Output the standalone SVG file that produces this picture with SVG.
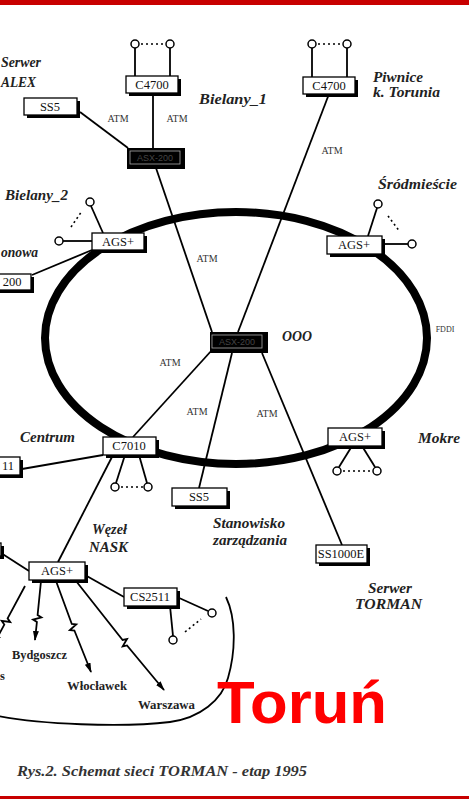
<svg xmlns="http://www.w3.org/2000/svg" width="469" height="799" viewBox="0 0 469 799">
<defs>
<marker id="ah" viewBox="0 0 10 6" refX="9" refY="3" markerWidth="10" markerHeight="6" markerUnits="userSpaceOnUse" orient="auto">
<path d="M0,0 L10,3 L0,6 Z" fill="#000"/>
</marker>
<style>
.ln{stroke:#000;stroke-width:1.8;fill:none}
.ring{stroke:#000;stroke-width:8;fill:none}
.dots{stroke:#000;stroke-width:1.6;stroke-dasharray:2 3;fill:none}
.sh{fill:#000}
.bx{fill:#fff;stroke:#000;stroke-width:1.3}
.bt{font-family:"Liberation Serif",serif;font-size:12.5px;text-anchor:middle;fill:#111}
.lb{font-family:"Liberation Serif",serif;font-size:14.5px;font-style:italic;font-weight:bold;fill:#222}
.up{font-family:"Liberation Serif",serif;font-size:12.5px;font-weight:bold;fill:#222}
.atm{font-family:"Liberation Serif",serif;font-size:10px;text-anchor:middle;fill:#333}
.term{fill:#fff;stroke:#000;stroke-width:1.5}
.blk{fill:#000}
.inr{fill:none;stroke:#aaa;stroke-width:0.8}
.bkt{font-family:"Liberation Sans",sans-serif;font-size:9px;text-anchor:middle;fill:#444}
</style>
</defs>
<rect x="0" y="0" width="469" height="799" fill="#fff"/>
<rect x="0" y="0" width="469" height="5" fill="#c80000"/>
<rect x="0" y="796" width="469" height="3" fill="#c80000"/>

<g id="connectors">
<ellipse class="ring" cx="236" cy="338" rx="191" ry="126"/>
<line class="ln" x1="80" y1="112" x2="128" y2="148"/>
<line class="ln" x1="153" y1="94" x2="153" y2="148"/>
<line class="ln" x1="156" y1="168" x2="212" y2="332"/>
<line class="ln" x1="329" y1="94" x2="238" y2="332"/>
<line class="ln" x1="32" y1="275" x2="92" y2="250"/>
<line class="ln" x1="212" y1="350" x2="133" y2="437"/>
<line class="ln" x1="232" y1="353" x2="199" y2="488"/>
<line class="ln" x1="262" y1="353" x2="342" y2="545"/>
<line class="ln" x1="22" y1="469" x2="103" y2="455"/>
<line class="ln" x1="113" y1="455" x2="58" y2="562"/>
<line class="ln" x1="1" y1="553" x2="29" y2="571"/>
<line class="ln" x1="85" y1="575" x2="124" y2="597"/>
<path class="ln" d="M25,586 L7.6,618.4 L10.2,622 L1.7,620.9 L4.3,624.6 L-6,644" marker-end="url(#ah)"/>
<path class="ln" d="M41,581 L37.6,615 L41.4,617.4 L33.1,619.6 L36.9,622 L35,640" marker-end="url(#ah)"/>
<path class="ln" d="M56,581 L71.8,624 L76.2,624.4 L69.9,630.1 L74.4,630.5 L91,672" marker-end="url(#ah)"/>
<path class="ln" d="M76,581 L122.6,640 L127,639 L122.7,646.4 L127,645.4 L164,690" marker-end="url(#ah)"/>
<path class="ln" d="M-2,716 C40,724 120,728 170,722 C200,718 222,700 228,678 C236,650 236,618 226,597"/>
<text class="atm" x="118" y="122">ATM</text>
<text class="atm" x="177" y="122">ATM</text>
<text class="atm" x="332" y="154">ATM</text>
<text class="atm" x="207" y="262">ATM</text>
<text class="atm" x="170" y="366">ATM</text>
<text class="atm" x="197" y="415">ATM</text>
<text class="atm" x="267" y="417">ATM</text>
<text class="atm" x="445" y="332" style="font-size:8px" fill="#555">FDDI</text>
</g>

<g id="bielany1">
<line class="ln" x1="135" y1="48" x2="135" y2="76"/>
<line class="ln" x1="170" y1="48" x2="170" y2="76"/>
<line class="dots" x1="141" y1="44" x2="165" y2="44"/>
<circle class="term" cx="135" cy="44" r="4"/>
<circle class="term" cx="170" cy="44" r="4"/>
<rect class="sh" x="129" y="79" width="52" height="17"/>
<rect class="bx" x="126" y="76" width="52" height="17"/>
<text class="bt" x="152" y="89">C4700</text>
<text class="lb" x="199" y="104" textLength="68" lengthAdjust="spacingAndGlyphs">Bielany_1</text>
</g>

<g id="bielany1-switch">
<rect class="blk" x="127" y="148" width="58" height="21"/>
<rect class="inr" x="130" y="151" width="50" height="13"/>
<text class="bkt" x="155" y="161">ASX-200</text>
</g>

<g id="serwer-alex">
<rect class="sh" x="27" y="101" width="53" height="17"/>
<rect class="bx" x="24" y="98" width="53" height="17"/>
<text class="bt" x="50" y="111">SS5</text>
<text class="lb" x="1" y="67" textLength="40" lengthAdjust="spacingAndGlyphs">Serwer</text>
<text class="lb" x="1" y="87" textLength="35" lengthAdjust="spacingAndGlyphs">ALEX</text>
</g>

<g id="piwnice">
<line class="ln" x1="312" y1="48" x2="312" y2="77"/>
<line class="ln" x1="347" y1="48" x2="347" y2="77"/>
<line class="dots" x1="318" y1="44" x2="342" y2="44"/>
<circle class="term" cx="312" cy="44" r="4"/>
<circle class="term" cx="347" cy="44" r="4"/>
<rect class="sh" x="306" y="80" width="52" height="17"/>
<rect class="bx" x="303" y="77" width="52" height="17"/>
<text class="bt" x="329" y="90">C4700</text>
<text class="lb" x="373" y="82" textLength="50" lengthAdjust="spacingAndGlyphs">Piwnice</text>
<text class="lb" x="373" y="97" textLength="67" lengthAdjust="spacingAndGlyphs">k. Torunia</text>
</g>

<g id="bielany2">
<line class="ln" x1="63" y1="241" x2="92" y2="241"/>
<line class="ln" x1="91" y1="206" x2="103" y2="233"/>
<line class="dots" x1="71" y1="227" x2="82" y2="211"/>
<circle class="term" cx="59" cy="241" r="4"/>
<circle class="term" cx="90" cy="202" r="4"/>
<rect class="sh" x="95" y="236" width="52" height="17"/>
<rect class="bx" x="92" y="233" width="52" height="17"/>
<text class="bt" x="118" y="246">AGS+</text>
<text class="lb" x="5" y="200" textLength="63" lengthAdjust="spacingAndGlyphs">Bielany_2</text>
</g>

<g id="node-200">
<rect class="sh" x="-22" y="277" width="56" height="16"/>
<rect class="bx" x="-25" y="274" width="56" height="16"/>
<text class="bt" x="12" y="286">200</text>
<text class="lb" x="1" y="257" textLength="37" lengthAdjust="spacingAndGlyphs">onowa</text>
</g>

<g id="srodmiescie">
<line class="ln" x1="368" y1="236" x2="377" y2="208"/>
<line class="ln" x1="382" y1="244" x2="408" y2="244"/>
<line class="dots" x1="388" y1="216" x2="400" y2="232"/>
<circle class="term" cx="378" cy="204" r="4"/>
<circle class="term" cx="412" cy="244" r="4"/>
<rect class="sh" x="330" y="239" width="55" height="18"/>
<rect class="bx" x="327" y="236" width="55" height="18"/>
<text class="bt" x="354" y="249">AGS+</text>
<text class="lb" x="378" y="189" textLength="79" lengthAdjust="spacingAndGlyphs">Śródmieście</text>
</g>

<g id="ooo">
<rect class="blk" x="210" y="332" width="58" height="21"/>
<rect class="inr" x="212" y="335" width="50" height="13"/>
<text class="bkt" x="237" y="345">ASX-200</text>
<text class="lb" x="282" y="341" textLength="30" lengthAdjust="spacingAndGlyphs">OOO</text>
</g>

<g id="centrum">
<line class="ln" x1="125" y1="455" x2="116" y2="483"/>
<line class="ln" x1="139" y1="455" x2="147" y2="483"/>
<line class="dots" x1="121" y1="487" x2="143" y2="487"/>
<circle class="term" cx="115" cy="487" r="4"/>
<circle class="term" cx="148" cy="487" r="4"/>
<rect class="sh" x="106" y="440" width="53" height="18"/>
<rect class="bx" x="103" y="437" width="53" height="18"/>
<text class="bt" x="129" y="450">C7010</text>
<text class="lb" x="20" y="442" textLength="55" lengthAdjust="spacingAndGlyphs">Centrum</text>
</g>

<g id="node-11">
<rect class="sh" x="-27" y="460" width="50" height="18"/>
<rect class="bx" x="-30" y="457" width="50" height="18"/>
<text class="bt" x="8" y="470">11</text>
</g>

<g id="stanowisko">
<rect class="sh" x="175" y="491" width="55" height="18"/>
<rect class="bx" x="172" y="488" width="55" height="18"/>
<text class="bt" x="199" y="501">SS5</text>
<text class="lb" x="213" y="528" textLength="72" lengthAdjust="spacingAndGlyphs">Stanowisko</text>
<text class="lb" x="213" y="545" textLength="74" lengthAdjust="spacingAndGlyphs">zarządzania</text>
</g>

<g id="mokre">
<line class="ln" x1="352" y1="446" x2="339" y2="467"/>
<line class="ln" x1="362" y1="446" x2="375" y2="467"/>
<line class="dots" x1="343" y1="471" x2="372" y2="471"/>
<circle class="term" cx="337" cy="471" r="4"/>
<circle class="term" cx="377" cy="471" r="4"/>
<rect class="sh" x="331" y="431" width="54" height="18"/>
<rect class="bx" x="328" y="428" width="54" height="18"/>
<text class="bt" x="355" y="441">AGS+</text>
<text class="lb" x="418" y="443" textLength="42" lengthAdjust="spacingAndGlyphs">Mokre</text>
</g>

<g id="serwer-torman">
<rect class="sh" x="319" y="548" width="51" height="18"/>
<rect class="bx" x="316" y="545" width="51" height="18"/>
<text class="bt" x="341" y="558">SS1000E</text>
<text class="lb" x="368" y="593" textLength="44" lengthAdjust="spacingAndGlyphs">Serwer</text>
<text class="lb" x="355" y="609" textLength="67" lengthAdjust="spacingAndGlyphs">TORMAN</text>
</g>

<g id="nask">
<rect class="sh" x="32" y="565" width="56" height="18"/>
<rect class="bx" x="29" y="562" width="56" height="18"/>
<text class="bt" x="57" y="575">AGS+</text>
<text class="lb" x="92" y="534" textLength="35" lengthAdjust="spacingAndGlyphs">Węzeł</text>
<text class="lb" x="89" y="552" textLength="39" lengthAdjust="spacingAndGlyphs">NASK</text>
</g>

<g id="node-left">
<rect class="sh" x="-37" y="546" width="41" height="13"/>
<rect class="bx" x="-40" y="543" width="41" height="13"/>
</g>

<g id="cs2511">
<line class="ln" x1="170" y1="606" x2="173" y2="636"/>
<line class="ln" x1="177" y1="597" x2="208" y2="611"/>
<line class="dots" x1="185" y1="632" x2="201" y2="619"/>
<circle class="term" cx="173" cy="640" r="4"/>
<circle class="term" cx="212" cy="613" r="4"/>
<rect class="sh" x="127" y="591" width="53" height="18"/>
<rect class="bx" x="124" y="588" width="53" height="18"/>
<text class="bt" x="150" y="601">CS2511</text>
</g>

<g id="destinations">
<text class="up" x="0" y="680">s</text>
<text class="up" x="12" y="659" textLength="55" lengthAdjust="spacingAndGlyphs">Bydgoszcz</text>
<text class="up" x="67" y="690" textLength="60" lengthAdjust="spacingAndGlyphs">Włocławek</text>
<text class="up" x="138" y="709" textLength="57" lengthAdjust="spacingAndGlyphs">Warszawa</text>
</g>

<text x="217" y="723" font-family="Liberation Sans, sans-serif" font-weight="bold" font-size="59" fill="#ff0000" textLength="170" lengthAdjust="spacingAndGlyphs">Toruń</text>
<text x="17" y="776" font-family="Liberation Serif, serif" font-style="italic" font-weight="bold" font-size="14" fill="#333" textLength="290" lengthAdjust="spacingAndGlyphs">Rys.2. Schemat sieci TORMAN - etap 1995</text>
</svg>
